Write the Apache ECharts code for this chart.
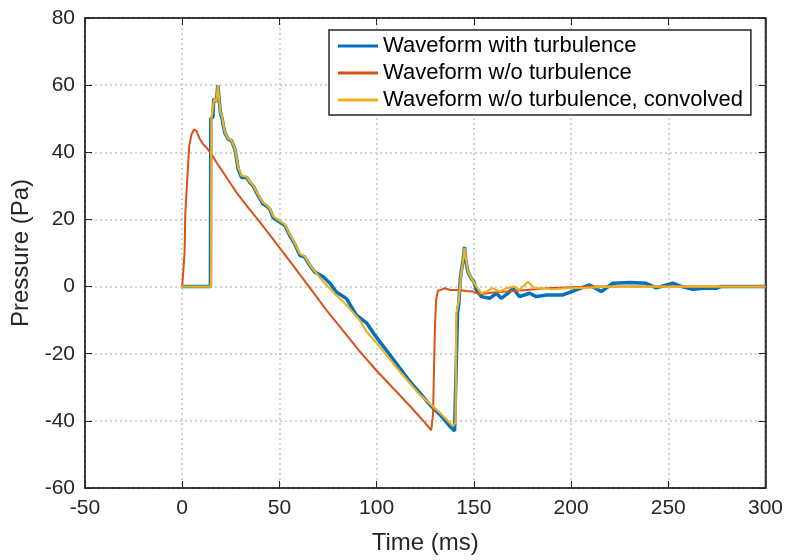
<!DOCTYPE html>
<html>
<head>
<meta charset="utf-8">
<script src="https://cdn.jsdelivr.net/npm/echarts@6/dist/echarts.min.js"></script>
<style>
  html, body { margin: 0; padding: 0; background: #fff; }
  #main { width: 786px; height: 560px; }
</style>
</head>
<body>
<div id="main"></div>
<script>
// series names
var names = ['Waveform with turbulence', 'Waveform w/o turbulence', 'Waveform w/o turbulence, convolved'];

// with turbulence (blue)
var blueT = [0, 14.5, 14.7, 15.8, 16.2, 17.6, 18.3, 19.2, 19.6, 20.5, 21.9, 23.7, 25.4, 27.1, 28.8, 30.5, 33.1, 34.8, 36.5, 39.1,
    41.6, 43.4, 45.1, 46.8, 50.2, 52.8, 55.3, 57.9, 60.5, 63, 65.6, 68.2, 72.5, 76, 79.3, 84.5, 89.6, 94.8, 99, 101.6,
    106.8, 111.9, 117, 122.2, 127.3, 132.5, 137.6, 140.1, 141.1, 141.6, 142.3, 143, 143.5, 144.5, 145.2, 145.8, 147, 148.7, 150, 151.3,
    153.9, 158.1, 161.6, 164.1, 167.5, 170.1, 173.5, 178.7, 182.1, 187.3, 192.4, 195.8, 202.7, 209.5, 215.5, 221.5, 230.1, 238.6, 243.8, 252.3,
    257, 262.6, 269.5, 274.6, 277, 300];
var blueP = [0, 0, 50, 50.5, 56, 55, 60, 60, 52, 50, 45.8, 43.9, 43.4, 40.9, 35, 32.5, 32.5, 31, 30, 27,
    24.6, 24, 23, 20.5, 19.2, 18.2, 15.2, 12.7, 9.3, 8.8, 6.3, 4.3, 2.9, 1, -1.6, -3.6, -8.5, -10.8, -14.4, -16.4,
    -20.3, -24.3, -28.2, -31.7, -35.2, -38.1, -41.6, -43, -42.5, -8, -5, 2, 4.3, 8, 11.8, 8, 4.3, 2.4, 1.5, -1.1,
    -3, -3.5, -2, -3.5, -2, -0.5, -3, -2, -3, -2.5, -2.5, -2.5, -1, 0.5, -1.5, 1, 1.2, 1, -0.4, 1,
    0, -0.8, -0.4, -0.5, 0, 0];

// without turbulence (red)
var redT = [0, 0.8, 1.2, 1.6, 2.6, 3.6, 4.8, 6, 7.4, 9.1, 10.8, 12.5, 15.1, 17.7, 21.1, 24.5, 28, 33.1, 40, 57,
    74.2, 85.3, 91.3, 99.9, 108.4, 117, 124, 128.1, 129, 129.5, 130, 130.6, 131.5, 133, 135, 138, 142, 146, 149.5, 153,
    160, 166.7, 177, 187.3, 200, 210, 300];
var redP = [0, 0, 10, 22, 32, 41.9, 45.3, 46.8, 46.3, 43.9, 42.4, 41.4, 39.4, 36.9, 34, 31, 28, 24.1, 19.2, 6.3,
    -7, -15, -19.3, -25, -30.2, -35.5, -40, -42.8, -38, -25, -12, -4, -1.2, -1, -0.5, -1, -1, -1.3, -1.5, -2.3,
    -1.8, -1.5, -1, -0.5, -0.2, 0, 0];

// without turbulence, convolved (yellow)
var yelT = [0, 14.8, 15, 16, 16.4, 17.6, 18.3, 19.2, 19.6, 20.5, 21.9, 23.7, 25.4, 27.1, 28.8, 30.5, 33.1, 34.8, 36.5, 39.1,
    41.6, 43.4, 45.1, 46.8, 50.2, 52.8, 55.3, 57.9, 60.5, 63, 65.6, 68.2, 72.5, 79.3, 84.5, 91.3, 94.8, 101.6, 111.9, 122.2,
    132.5, 139.3, 140.6, 141, 142.3, 143.3, 144.3, 145.2, 146, 147, 148.7, 151.3, 153.9, 156.4, 159.8, 163.3, 166.7, 171, 173.5, 177.8,
    181.2, 185.5, 190, 198.9, 210, 220, 300];
var yelP = [0, 0, 50, 50.5, 56, 55, 60, 60, 52, 50.5, 46, 44, 43.5, 41, 35.5, 33, 32.7, 31.2, 30.2, 27.2,
    25, 24.3, 23.2, 21, 19.5, 18.5, 15.5, 13, 9.8, 9, 6.5, 4.5, 1.5, -2.6, -5.5, -10, -13.4, -17.9, -25.3, -32.2,
    -37.6, -41.6, -40.5, -8, -4, 3, 7, 11.5, 8, 4.5, 2.5, 0, -2, -1.5, -0.5, -1.5, -0.5, 0, -1, 1.4,
    -0.5, -0.5, -0.8, -0.5, -0.3, 0, 0];

var xTicks = [-50, 0, 50, 100, 150, 200, 250, 300];
var yTicks = [-60, -40, -20, 0, 20, 40, 60, 80];

function zip(t, p) {
    return t.map(function (v, i) { return [v, p[i]]; });
}

var axisColor = '#262626';
var font = 'Liberation Sans, Arial, Helvetica, sans-serif';

var myChart = echarts.init(document.getElementById('main'));
var option = {
    animation: false,
    backgroundColor: '#fff',
    grid: {
        left: 85, right: 20, top: 18, bottom: 69,
        show: true, borderColor: axisColor, borderWidth: 1.5, backgroundColor: 'transparent'
    },
    legend: {
        data: names.map(function (n) { return { name: n, icon: 'rect' }; }),
        orient: 'vertical',
        left: 329, top: 30,
        padding: [5, 8, 4, 9],
        itemGap: 5,
        itemWidth: 40,
        itemHeight: 3,
        backgroundColor: '#fff',
        borderColor: axisColor,
        borderWidth: 1.5,
        borderRadius: 0,
        textStyle: { fontFamily: font, fontSize: 22, color: '#000', lineHeight: 21 }
    },
    xAxis: [{
        type: 'value',
        min: xTicks[0], max: xTicks[xTicks.length - 1], interval: 50,
        name: 'Time (ms)', nameLocation: 'middle', nameGap: 43,
        nameTextStyle: { fontFamily: font, fontSize: 24, color: axisColor },
        axisLine: { onZero: false, lineStyle: { color: axisColor, width: 1.5 } },
        axisTick: { inside: true, length: 7, lineStyle: { color: axisColor } },
        axisLabel: { fontFamily: font, fontSize: 21, color: axisColor, margin: 10 },
        splitLine: { show: true, lineStyle: { color: '#c4c4c4', type: [2, 3], width: 1.5 } }
    }, {
        type: 'value', position: 'top',
        min: xTicks[0], max: xTicks[xTicks.length - 1], interval: 50,
        axisLine: { onZero: false, lineStyle: { color: axisColor, width: 1.5 } },
        axisTick: { inside: true, length: 7, lineStyle: { color: axisColor } },
        axisLabel: { show: false },
        splitLine: { show: false }
    }],
    yAxis: [{
        type: 'value',
        min: yTicks[0], max: yTicks[yTicks.length - 1], interval: 20,
        name: 'Pressure (Pa)', nameLocation: 'middle', nameGap: 39,
        nameTextStyle: { fontFamily: font, fontSize: 24, color: axisColor },
        axisLine: { show: true, onZero: false, lineStyle: { color: axisColor, width: 1.5 } },
        axisTick: { show: true, inside: true, length: 7, lineStyle: { color: axisColor } },
        axisLabel: { fontFamily: font, fontSize: 21, color: axisColor, margin: 10 },
        splitLine: { show: true, lineStyle: { color: '#c4c4c4', type: [2, 3], width: 1.5 } }
    }, {
        type: 'value', position: 'right',
        min: yTicks[0], max: yTicks[yTicks.length - 1], interval: 20,
        axisLine: { show: true, onZero: false, lineStyle: { color: axisColor, width: 1.5 } },
        axisTick: { show: true, inside: true, length: 7, lineStyle: { color: axisColor } },
        axisLabel: { show: false },
        splitLine: { show: false }
    }],
    series: [
        {
            name: names[0], type: 'line', symbol: 'none',
            data: zip(blueT, blueP),
            itemStyle: { color: '#0072BD' },
            lineStyle: { color: '#0072BD', width: 3.5 }
        },
        {
            name: names[1], type: 'line', symbol: 'none',
            data: zip(redT, redP),
            itemStyle: { color: '#D95319' },
            lineStyle: { color: '#D95319', width: 2 }
        },
        {
            name: names[2], type: 'line', symbol: 'none',
            data: zip(yelT, yelP),
            itemStyle: { color: '#EDB120' },
            lineStyle: { color: '#EDB120', width: 2.2 }
        }
    ]
};
option && myChart.setOption(option);
</script>
</body>
</html>
